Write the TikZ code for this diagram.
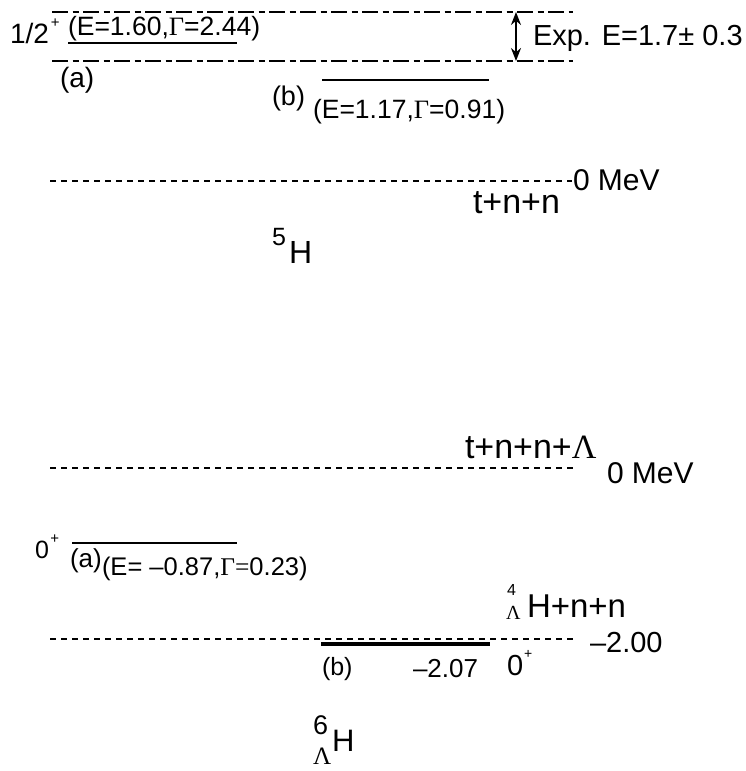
\documentclass[tikz,border=0pt]{standalone}
\usepackage{fontspec}
\usepackage{graphicx}
\setmainfont{Liberation Sans}
\newfontfamily\greekserif{Liberation Serif}
\usetikzlibrary{arrows.meta}
% font size in pt (1pt = 1 unit of the picture)
\newcommand\fs[1]{\fontsize{#1}{#1}\selectfont}
\newcommand\Gam{{\greekserif Γ}}
\newcommand\Lam{{\greekserif Λ}}

\begin{document}
\begin{tikzpicture}[x=1pt,y=-1pt,
  lbl/.style={inner sep=0pt, outer sep=0pt, anchor=base west},
  threshold/.style={line width=1.5pt, dash pattern=on 6pt off 5pt},
  expband/.style={line width=1.5pt, dash pattern=on 16pt off 4.5pt on 6pt off 4.5pt},
  levelline/.style={line width=1.8pt},
  boundlevel/.style={line width=3.2pt},
  gaparrow/.style={line width=1.8pt,
    {Stealth[length=13pt,width=10pt]}-{Stealth[length=13pt,width=10pt]}}
]
\useasboundingbox (0,0) rectangle (746,771);

% ---------- 5H ----------
% experimental band
\draw[expband] (52,12) -- (573,12);
\draw[expband] (52,61) -- (573,61);
\coordinate (expHi) at (516,12);
\coordinate (expLo) at (516,61);
\draw[gaparrow] (expHi) -- (expLo);
\node[lbl] (exp) at (533,45) {\fs{29}Exp. E=1.7± 0.3};

% resonance (a)
\node[lbl] (jpa) at (10,43) {\fs{28}1/2\hspace{2pt}\raisebox{15.5pt}{\fs{15}+}};
\node[lbl] (ea) at (68,35) {\fs{26.5}(E=1.60,\Gam=2.44)};
\draw[levelline] (68,43) -- (237,43);
\node[lbl] (la) at (60,87) {\fs{28}(a)};

% resonance (b)
\node[lbl] (lb) at (272,105) {\fs{27}(b)};
\draw[levelline] (322,80) -- (489,80);
\node[lbl] (eb) at (313,118) {\fs{26.5}(E=1.17,\Gam=0.91)};

% t+n+n threshold
\draw[threshold] (50,181) -- (572,181);
\node[lbl] (zeroA) at (573,190) {\fs{30}0 MeV};
\node[lbl] (tnn) at (473,213) {\fs{34}t+n+n};
\node[lbl] (massfive) at (272,245) {\fs{25}5};
\node[lbl] (hfive) at (289,263) {\fs{32}H};

% ---------- 6LH ----------
\draw[threshold] (50,468) -- (573,468);
\node[lbl] (tnnl) at (465,458) {\fs{34}t+n+n+\Lam};
\node[lbl] (zeroB) at (607,483) {\fs{30}0 MeV};

% resonance (a)
\node[lbl] (jpb) at (35,558) {\fs{25}0\hspace{1.5pt}\raisebox{15pt}{\fs{15}+}};
\draw[levelline] (72,543) -- (237,543);
\node[lbl] (lal) at (70,567) {\fs{26}(a)};
\node[lbl] (eal) at (102,575) {\fs{25.5}(E= –0.87,\Gam{\greekserif =}0.23)};

% 4LH+n+n threshold and bound state (b)
\node[lbl] (four) at (507,595) {\fs{16}4};
\node[lbl] (lamsub) at (506,619) {\fs{20}\Lam};
\node[lbl] (hnn) at (527,617) {\fs{33}H+n+n};
\draw[threshold] (50,639) -- (573,639);
\node[lbl] (mtwo) at (590,652) {\fs{29}–2.00};
\draw[boundlevel] (321,644) -- (490,644);
\node[lbl] (lbb) at (322,675) {\fs{25}(b)};
\node[lbl] (ebb) at (413,677) {\fs{26}–2.07};
\node[lbl] (jpc) at (507,675) {\fs{29}0\hspace{1pt}\raisebox{17pt}{\fs{14}+}};

\node[lbl] (six) at (313,734) {\fs{27}6};
\node[lbl] (hsix) at (332,751) {\fs{31}H};
\node[lbl] (lamsix) at (313,764) {\fs{25}\Lam};
\end{tikzpicture}
\end{document}
